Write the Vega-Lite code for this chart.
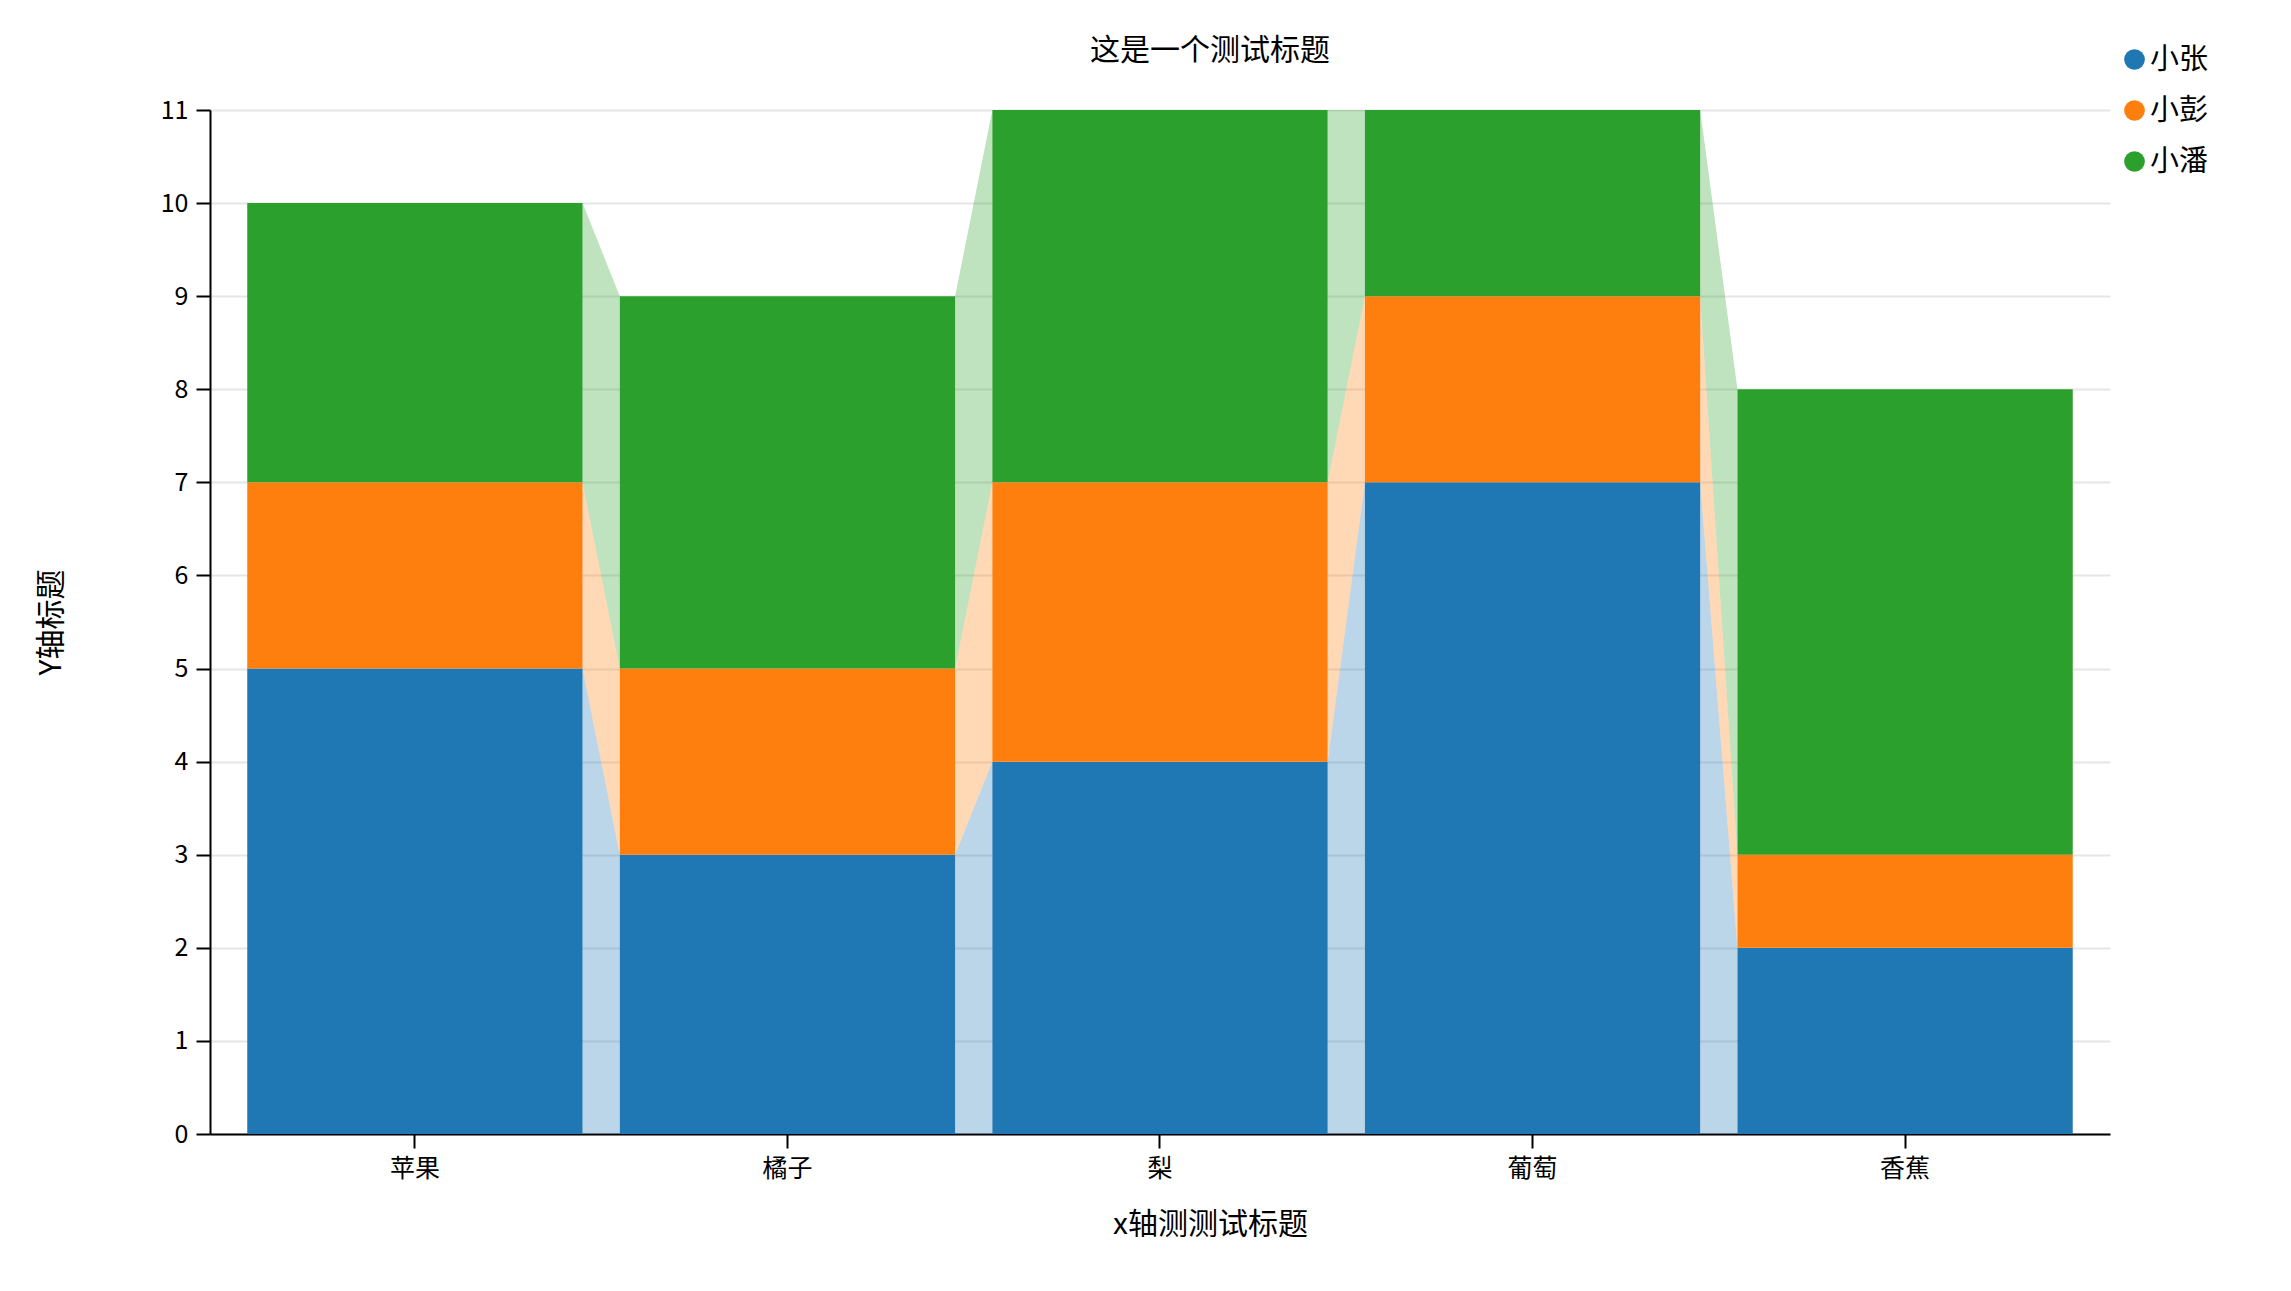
{
  "$schema": "https://vega.github.io/schema/vega-lite/v6.json",
  "width": 1900,
  "height": 1024,
  "autosize": {"type": "none"},
  "padding": {"left": 210, "top": 110, "right": 181, "bottom": 157},
  "background": "white",
  "config": {
    "font": "Noto Sans CJK SC",
    "view": {"stroke": null},
    "axis": {
      "domainColor": "#000000",
      "domainWidth": 2,
      "tickColor": "#000000",
      "tickWidth": 2,
      "tickSize": 14,
      "labelColor": "#000000",
      "labelFontSize": 25,
      "titleFontSize": 30,
      "titleFontWeight": "normal",
      "titleColor": "#000000",
      "gridColor": "#e6e6e6",
      "gridWidth": 2
    }
  },
  "title": {
    "text": "这是一个测试标题",
    "fontSize": 30,
    "fontWeight": "normal",
    "color": "#000000",
    "anchor": "middle",
    "dx": 50,
    "offset": 0,
    "dy": 21
  },
  "datasets": {
    "fruits": [
      {"fruit": "苹果", "name": "小张", "value": 5},
      {"fruit": "苹果", "name": "小彭", "value": 2},
      {"fruit": "苹果", "name": "小潘", "value": 3},
      {"fruit": "橘子", "name": "小张", "value": 3},
      {"fruit": "橘子", "name": "小彭", "value": 2},
      {"fruit": "橘子", "name": "小潘", "value": 4},
      {"fruit": "梨", "name": "小张", "value": 4},
      {"fruit": "梨", "name": "小彭", "value": 3},
      {"fruit": "梨", "name": "小潘", "value": 4},
      {"fruit": "葡萄", "name": "小张", "value": 7},
      {"fruit": "葡萄", "name": "小彭", "value": 2},
      {"fruit": "葡萄", "name": "小潘", "value": 2},
      {"fruit": "香蕉", "name": "小张", "value": 2},
      {"fruit": "香蕉", "name": "小彭", "value": 1},
      {"fruit": "香蕉", "name": "小潘", "value": 5}
    ],
    "links": [
      {"seg": "苹果-橘子", "fruit": "苹果", "side": "end", "name": "小张", "value": 5},
      {"seg": "苹果-橘子", "fruit": "苹果", "side": "end", "name": "小彭", "value": 2},
      {"seg": "苹果-橘子", "fruit": "苹果", "side": "end", "name": "小潘", "value": 3},
      {"seg": "苹果-橘子", "fruit": "橘子", "side": "start", "name": "小张", "value": 3},
      {"seg": "苹果-橘子", "fruit": "橘子", "side": "start", "name": "小彭", "value": 2},
      {"seg": "苹果-橘子", "fruit": "橘子", "side": "start", "name": "小潘", "value": 4},
      {"seg": "橘子-梨", "fruit": "橘子", "side": "end", "name": "小张", "value": 3},
      {"seg": "橘子-梨", "fruit": "橘子", "side": "end", "name": "小彭", "value": 2},
      {"seg": "橘子-梨", "fruit": "橘子", "side": "end", "name": "小潘", "value": 4},
      {"seg": "橘子-梨", "fruit": "梨", "side": "start", "name": "小张", "value": 4},
      {"seg": "橘子-梨", "fruit": "梨", "side": "start", "name": "小彭", "value": 3},
      {"seg": "橘子-梨", "fruit": "梨", "side": "start", "name": "小潘", "value": 4},
      {"seg": "梨-葡萄", "fruit": "梨", "side": "end", "name": "小张", "value": 4},
      {"seg": "梨-葡萄", "fruit": "梨", "side": "end", "name": "小彭", "value": 3},
      {"seg": "梨-葡萄", "fruit": "梨", "side": "end", "name": "小潘", "value": 4},
      {"seg": "梨-葡萄", "fruit": "葡萄", "side": "start", "name": "小张", "value": 7},
      {"seg": "梨-葡萄", "fruit": "葡萄", "side": "start", "name": "小彭", "value": 2},
      {"seg": "梨-葡萄", "fruit": "葡萄", "side": "start", "name": "小潘", "value": 2},
      {"seg": "葡萄-香蕉", "fruit": "葡萄", "side": "end", "name": "小张", "value": 7},
      {"seg": "葡萄-香蕉", "fruit": "葡萄", "side": "end", "name": "小彭", "value": 2},
      {"seg": "葡萄-香蕉", "fruit": "葡萄", "side": "end", "name": "小潘", "value": 2},
      {"seg": "葡萄-香蕉", "fruit": "香蕉", "side": "start", "name": "小张", "value": 2},
      {"seg": "葡萄-香蕉", "fruit": "香蕉", "side": "start", "name": "小彭", "value": 1},
      {"seg": "葡萄-香蕉", "fruit": "香蕉", "side": "start", "name": "小潘", "value": 5}
    ]
  },
  "layer": [
    {
      "data": {"name": "fruits"},
      "transform": [
        {"stack": "value", "groupby": ["fruit"], "sort": [{"field": "name", "order": "ascending"}], "as": ["start", "end"]},
        {"fold": ["start", "end"], "as": ["side", "edge"]}
      ],
      "mark": {"type": "area", "opacity": 1, "interpolate": "linear"},
      "encoding": {
        "x": {
          "field": "fruit", "type": "nominal", "title": "x轴测测试标题",
          "sort": ["苹果", "橘子", "梨", "葡萄", "香蕉"],
          "bandPosition": 0,
          "scale": {"type": "band", "paddingInner": 0.1, "paddingOuter": 0.1},
          "axis": {"labelAngle": 0, "labelAlign": "center", "labelBaseline": "top", "bandPosition": 0.5, "grid": false, "labelPadding": 8, "titlePadding": 28, "titleX": 1000}
        },
        "xOffset": {
          "field": "side", "type": "nominal",
          "scale": {"type": "point", "domain": ["start", "end"], "padding": 0}
        },
        "y": {
          "field": "start", "type": "quantitative", "stack": null, "title": "Y轴标题",
          "scale": {"domain": [0, 11], "nice": false},
          "axis": {"values": [0, 1, 2, 3, 4, 5, 6, 7, 8, 9, 10, 11], "format": "d", "grid": true, "labelPadding": 8, "titlePadding": 94}
        },
        "y2": {"field": "end"},
        "color": {
          "field": "name", "type": "nominal",
          "scale": {"domain": ["小张", "小彭", "小潘"], "range": ["#1f77b4", "#ff7f0e", "#2ca02c"]},
          "legend": {
            "title": null, "orient": "none", "legendX": 1910, "legendY": -65,
            "symbolType": "circle", "symbolSize": 430, "symbolOpacity": 1, "symbolStrokeWidth": 0,
            "labelFontSize": 29, "labelColor": "#000000", "rowPadding": 21, "labelOffset": 1, "padding": 0
          }
        },
        "detail": {"field": "fruit"}
      }
    },
    {
      "data": {"name": "links"},
      "transform": [
        {"stack": "value", "groupby": ["seg", "fruit"], "sort": [{"field": "name", "order": "ascending"}], "as": ["lo", "hi"]}
      ],
      "mark": {"type": "area", "opacity": 0.3, "interpolate": "linear"},
      "encoding": {
        "x": {
          "field": "fruit", "type": "nominal", "title": "x轴测测试标题",
          "sort": ["苹果", "橘子", "梨", "葡萄", "香蕉"],
          "bandPosition": 0,
          "scale": {"type": "band", "paddingInner": 0.1, "paddingOuter": 0.1}
        },
        "xOffset": {
          "field": "side", "type": "nominal",
          "scale": {"type": "point", "domain": ["start", "end"], "padding": 0}
        },
        "y": {"field": "lo", "type": "quantitative", "stack": null, "title": "Y轴标题", "scale": {"domain": [0, 11], "nice": false}},
        "y2": {"field": "hi"},
        "color": {"field": "name", "type": "nominal", "legend": null},
        "detail": {"field": "seg"}
      }
    }
  ]
}
